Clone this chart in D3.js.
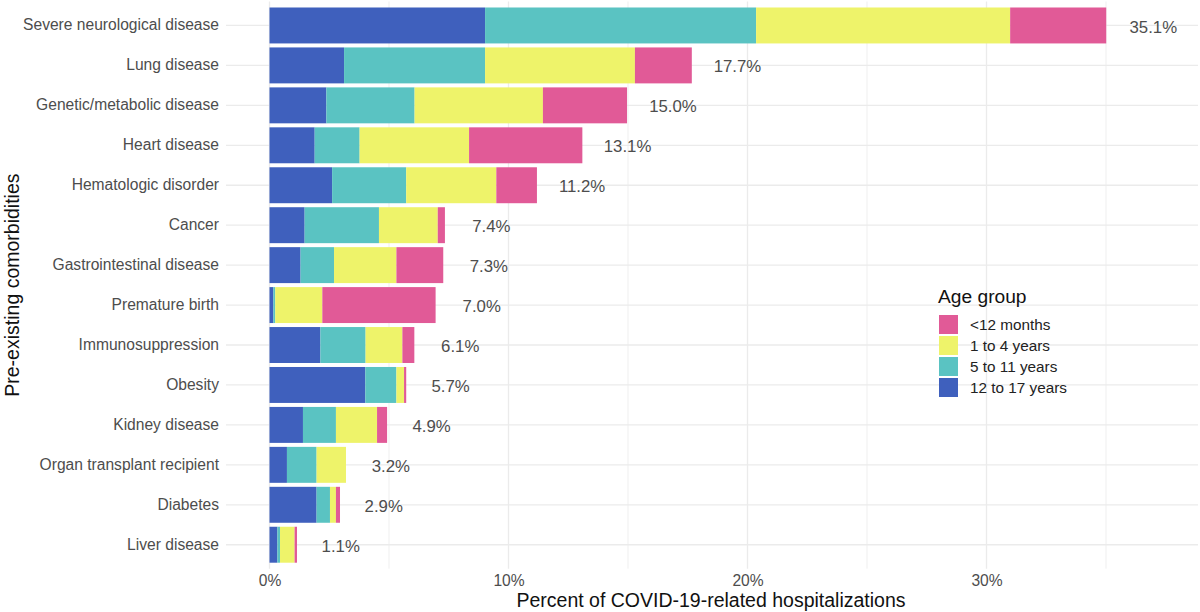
<!DOCTYPE html>
<html>
<head>
<meta charset="utf-8">
<script src="https://cdn.jsdelivr.net/npm/d3@7"></script>
<style>
  html, body { margin: 0; padding: 0; background: #fff; }
  svg { display: block; font-family: "Liberation Sans", Arial, Helvetica, sans-serif; }
</style>
</head>
<body>
<svg id="chart" width="1200" height="612"></svg>
<script>
// ---- Data ----
const categories = [
  "Severe neurological disease", "Lung disease", "Genetic/metabolic disease",
  "Heart disease", "Hematologic disorder", "Cancer", "Gastrointestinal disease",
  "Premature birth", "Immunosuppression", "Obesity", "Kidney disease",
  "Organ transplant recipient", "Diabetes", "Liver disease"
];
const ageGroups = ["12 to 17 years", "5 to 11 years", "1 to 4 years", "<12 months"];
const age12to17 = [9.02, 3.12, 2.38, 1.89, 2.62, 1.47, 1.30, 0.16, 2.13, 4.01, 1.40, 0.73, 1.97, 0.33];
const age5to11  = [11.34, 5.90, 3.69, 1.88, 3.10, 3.11, 1.40, 0.08, 1.89, 1.30, 1.38, 1.24, 0.56, 0.11];
const age1to4   = [10.63, 6.27, 5.37, 4.58, 3.77, 2.46, 2.61, 1.97, 1.54, 0.32, 1.72, 1.23, 0.25, 0.61];
const ageUnder1 = [4.02, 2.38, 3.52, 4.74, 1.70, 0.30, 1.96, 4.74, 0.50, 0.09, 0.42, 0.00, 0.17, 0.10];
const totals    = [35.1, 17.7, 15.0, 13.1, 11.2, 7.4, 7.3, 7.0, 6.1, 5.7, 4.9, 3.2, 2.9, 1.1];
const xTicks = [0, 10, 20, 30];
const xMinorTicks = [5, 15, 25, 35];
const legendOrder = ["<12 months", "1 to 4 years", "5 to 11 years", "12 to 17 years"];
const colors = {
  "<12 months": "#e15a97",
  "1 to 4 years": "#eef36a",
  "5 to 11 years": "#5ac3c2",
  "12 to 17 years": "#3f60bd"
};

const rows = categories.map((c, i) => ({
  category: c,
  "12 to 17 years": age12to17[i],
  "5 to 11 years": age5to11[i],
  "1 to 4 years": age1to4[i],
  "<12 months": ageUnder1[i],
  total: totals[i]
}));

// ---- Layout ----
const svg = d3.select("#chart");
const panel = { left: 226, right: 1198, top: 1.5, bottom: 568.7 };

const x = d3.scaleLinear().domain([0, 10]).range([269.5, 508.5]);
const y = d3.scaleBand().domain(categories)
  .range([panel.top, panel.bottom]).paddingInner(0.1).paddingOuter(0.15);

// Grid
const grid = svg.append("g");
grid.selectAll("line.minor").data(xMinorTicks).join("line")
  .attr("x1", d => x(d)).attr("x2", d => x(d))
  .attr("y1", panel.top).attr("y2", panel.bottom)
  .attr("stroke", "#ebebeb").attr("stroke-width", 0.8);
grid.selectAll("line.major").data(xTicks).join("line")
  .attr("x1", d => x(d)).attr("x2", d => x(d))
  .attr("y1", panel.top).attr("y2", panel.bottom)
  .attr("stroke", "#ebebeb").attr("stroke-width", 1.3);
grid.selectAll("line.hy").data(categories).join("line")
  .attr("x1", panel.left).attr("x2", panel.right)
  .attr("y1", d => y(d) + y.bandwidth() / 2).attr("y2", d => y(d) + y.bandwidth() / 2)
  .attr("stroke", "#ebebeb").attr("stroke-width", 1.3);

// Bars
const stack = d3.stack().keys(ageGroups);
const series = stack(rows);
svg.append("g").selectAll("g").data(series).join("g")
  .attr("fill", d => colors[d.key])
  .selectAll("rect").data(d => d).join("rect")
  .attr("x", d => x(d[0]))
  .attr("width", d => Math.max(0, x(d[1]) - x(d[0])))
  .attr("y", d => y(d.data.category))
  .attr("height", y.bandwidth());

// Value labels
svg.append("g").selectAll("text").data(rows).join("text")
  .attr("x", d => x(d.total + 1.88))
  .attr("y", d => y(d.category) + y.bandwidth() / 2 + 1)
  .attr("dy", "0.36em")
  .attr("text-anchor", "middle")
  .attr("font-size", 16.8)
  .attr("fill", "#4d4d4d")
  .text(d => d.total.toFixed(1) + "%");

// Y axis labels
const yAxis = svg.append("g").attr("transform", `translate(${panel.left - 7},0)`)
  .call(d3.axisLeft(y).tickSize(0).tickPadding(0));
yAxis.select(".domain").remove();
yAxis.selectAll("text").attr("font-size", 15.6).attr("fill", "#4d4d4d")
  .attr("font-family", "'Liberation Sans', Arial, sans-serif");

// X axis labels
const xAxis = svg.append("g").attr("transform", `translate(0,${panel.bottom})`)
  .call(d3.axisBottom(x).tickValues(xTicks).tickFormat(d => d + "%").tickSize(0).tickPadding(6));
xAxis.select(".domain").remove();
xAxis.selectAll("text").attr("font-size", 15.6).attr("fill", "#4d4d4d")
  .attr("font-family", "'Liberation Sans', Arial, sans-serif");

// Axis titles
svg.append("text")
  .attr("x", 711).attr("y", 607)
  .attr("text-anchor", "middle").attr("font-size", 19.5).attr("fill", "#111")
  .text("Percent of COVID-19-related hospitalizations");
svg.append("text")
  .attr("transform", `translate(19,${(panel.top + panel.bottom) / 2}) rotate(-90)`)
  .attr("text-anchor", "middle").attr("font-size", 19.5).attr("fill", "#111")
  .text("Pre-existing comorbidities");

// Legend
const lg = svg.append("g").attr("transform", "translate(938,0)");
lg.append("text").attr("x", 0).attr("y", 303).attr("font-size", 19.2).attr("fill", "#111")
  .text("Age group");
const items = lg.selectAll("g").data(legendOrder).join("g")
  .attr("transform", (d, i) => `translate(1,${315 + i * 21})`);
items.append("rect").attr("width", 19).attr("height", 19).attr("fill", d => colors[d]);
items.append("text").attr("x", 31).attr("y", 9.5).attr("dy", "0.36em")
  .attr("font-size", 15.3).attr("fill", "#222").text(d => d);
</script>
</body>
</html>
